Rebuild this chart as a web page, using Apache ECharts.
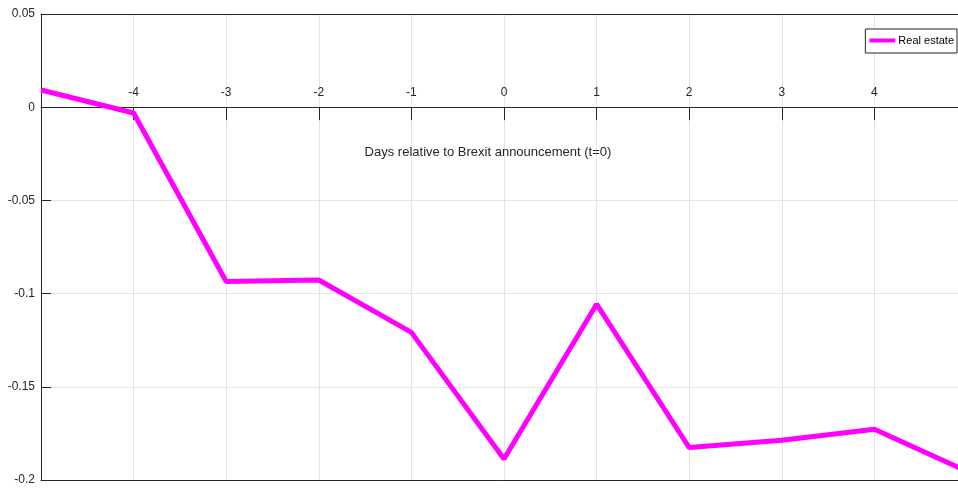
<!DOCTYPE html>
<html>
<head>
<meta charset="utf-8">
<script src="https://cdn.jsdelivr.net/npm/echarts@6/dist/echarts.min.js"></script>
<style>
    html, body { margin: 0; padding: 0; background: #fff; }
    #chart { width: 958px; height: 492px; }
</style>
</head>
<body>
<div id="chart"></div>
<script>
    // Data
    const days = [-5, -4, -3, -2, -1, 0, 1, 2, 3, 4, 5];
    const realEstate = [0.0092, -0.0031, -0.0935, -0.0927, -0.1208, -0.1887, -0.1057, -0.1826, -0.1787, -0.1728, -0.1954];
    const yTicks = [-0.2, -0.15, -0.1, -0.05, 0, 0.05];

    document.addEventListener('DOMContentLoaded', function () {
        const chart = echarts.init(document.getElementById('chart'));
        const axisColor = '#262626';
        const font = '"Liberation Sans", Arial, sans-serif';
        const gridHeight = 466;
        const yMin = yTicks[0];
        const yMax = yTicks[yTicks.length - 1];
        // where y = 0 sits, measured up from the bottom of the plot box
        const zeroOffset = gridHeight * (0 - yMin) / (yMax - yMin);

        const borderAxis = function (position) {
            return {
                type: 'value',
                position: position,
                min: days[0],
                max: days[days.length - 1],
                interval: 1,
                axisLine: { show: true, onZero: false, lineStyle: { color: axisColor, width: 1 } },
                axisTick: { show: false },
                axisLabel: { show: false },
                splitLine: { show: false }
            };
        };

        const option = {
            animation: false,
            textStyle: { fontFamily: font },
            grid: {
                left: 41,
                top: 14,
                width: 926,
                height: gridHeight,
                outerBoundsMode: 'none',
                containLabel: false
            },
            legend: {
                right: 1,
                top: 29,
                padding: [6, 3, 7, 4],
                borderColor: axisColor,
                borderWidth: 1,
                backgroundColor: '#fff',
                icon: 'rect',
                itemWidth: 26,
                itemHeight: 4,
                textStyle: { fontSize: 11, color: '#000', fontFamily: font, padding: [0, 0, 0, -2] },
                data: ['Real estate']
            },
            xAxis: [
                // bottom edge of the box, carries the vertical grid lines
                Object.assign(borderAxis('bottom'), {
                    splitLine: { show: true, lineStyle: { color: '#e3e3e3', width: 1 } }
                }),
                // top edge of the box
                borderAxis('top'),
                // axis drawn through y = 0
                {
                    type: 'value',
                    position: 'bottom',
                    offset: -zeroOffset,
                    min: days[0],
                    max: days[days.length - 1],
                    interval: 1,
                    name: 'Days relative to Brexit announcement (t=0)',
                    nameLocation: 'middle',
                    nameGap: 39,
                    nameTextStyle: { fontSize: 13, color: axisColor, fontFamily: font, padding: [0, 32, 0, 0] },
                    axisLine: { show: true, onZero: false, lineStyle: { color: axisColor, width: 1 } },
                    axisTick: { show: true, inside: false, length: 13, lineStyle: { color: axisColor } },
                    axisLabel: {
                        inside: true,
                        margin: 9,
                        fontSize: 12,
                        color: axisColor,
                        fontFamily: font,
                        formatter: function (v) {
                            return (v <= -5 || v >= 5) ? '' : String(v);
                        }
                    },
                    splitLine: { show: false }
                }
            ],
            yAxis: {
                type: 'value',
                min: yMin,
                max: yMax,
                interval: 0.05,
                axisLine: { show: true, onZero: false, lineStyle: { color: axisColor, width: 1 } },
                axisTick: { show: true, inside: true, length: 10, lineStyle: { color: axisColor } },
                axisLabel: {
                    margin: 6,
                    fontSize: 12,
                    color: axisColor,
                    fontFamily: font,
                    formatter: function (v) {
                        return String(Math.round(v * 100) / 100);
                    }
                },
                splitLine: { show: true, lineStyle: { color: '#e3e3e3', width: 1 } }
            },
            series: [
                {
                    name: 'Real estate',
                    type: 'line',
                    xAxisIndex: 0,
                    symbol: 'none',
                    color: '#ff00ff',
                    lineStyle: { width: 5, color: '#ff00ff' },
                    data: days.map((d, i) => [d, realEstate[i]])
                }
            ]
        };
        chart.setOption(option);
    });
</script>
</body>
</html>
